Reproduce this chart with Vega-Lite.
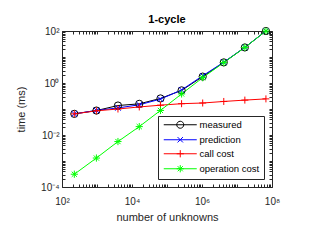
{
  "$schema": "https://vega.github.io/schema/vega-lite/v6.json",
  "width": 210,
  "height": 156,
  "autosize": {"type": "none"},
  "padding": {"left": 62, "top": 31, "right": 48, "bottom": 53},
  "background": "white",
  "title": {"text": "1-cycle", "font": "Liberation Sans", "fontSize": 11, "fontWeight": "bold", "color": "#000000", "offset": 0},
  "config": {
    "view": {"stroke": "#262626", "strokeWidth": 1},
    "axis": {"grid": false, "domain": false, "tickColor": "#262626", "tickSize": -3, "tickWidth": 1,
      "labelFont": "Liberation Sans", "labelFontSize": 10, "labelColor": "#262626",
      "titleFont": "Liberation Sans", "titleFontSize": 11, "titleFontWeight": "normal", "titleColor": "#262626",
      "labelFlush": false, "labelOverlap": false}
  },
  "data": {"values": [
    {"n": 225, "series": "measured", "time": 0.065},
    {"n": 961, "series": "measured", "time": 0.087},
    {"n": 3969, "series": "measured", "time": 0.136},
    {"n": 16129, "series": "measured", "time": 0.158},
    {"n": 65025, "series": "measured", "time": 0.255},
    {"n": 261121, "series": "measured", "time": 0.52},
    {"n": 1046529, "series": "measured", "time": 1.76},
    {"n": 4190209, "series": "measured", "time": 6.2},
    {"n": 16769025, "series": "measured", "time": 23.3},
    {"n": 67092481, "series": "measured", "time": 100},
    {"n": 225, "series": "prediction", "time": 0.065},
    {"n": 961, "series": "prediction", "time": 0.088},
    {"n": 3969, "series": "prediction", "time": 0.11},
    {"n": 16129, "series": "prediction", "time": 0.145},
    {"n": 65025, "series": "prediction", "time": 0.24},
    {"n": 261121, "series": "prediction", "time": 0.54},
    {"n": 1046529, "series": "prediction", "time": 1.9},
    {"n": 4190209, "series": "prediction", "time": 6.3},
    {"n": 16769025, "series": "prediction", "time": 23.5},
    {"n": 67092481, "series": "prediction", "time": 100},
    {"n": 225, "series": "call cost", "time": 0.065},
    {"n": 961, "series": "call cost", "time": 0.085},
    {"n": 3969, "series": "call cost", "time": 0.1},
    {"n": 16129, "series": "call cost", "time": 0.12},
    {"n": 65025, "series": "call cost", "time": 0.14},
    {"n": 261121, "series": "call cost", "time": 0.16},
    {"n": 1046529, "series": "call cost", "time": 0.17},
    {"n": 4190209, "series": "call cost", "time": 0.195},
    {"n": 16769025, "series": "call cost", "time": 0.22},
    {"n": 67092481, "series": "call cost", "time": 0.245},
    {"n": 225, "series": "operation cost", "time": 0.00031},
    {"n": 961, "series": "operation cost", "time": 0.0013},
    {"n": 3969, "series": "operation cost", "time": 0.0056},
    {"n": 16129, "series": "operation cost", "time": 0.021},
    {"n": 65025, "series": "operation cost", "time": 0.088},
    {"n": 261121, "series": "operation cost", "time": 0.38},
    {"n": 1046529, "series": "operation cost", "time": 1.6},
    {"n": 4190209, "series": "operation cost", "time": 6.1},
    {"n": 16769025, "series": "operation cost", "time": 23.3},
    {"n": 67092481, "series": "operation cost", "time": 100}
  ]},
  "encoding": {
    "x": {"field": "n", "type": "quantitative", "scale": {"type": "log", "domain": [100, 100000000], "nice": false}, "axis": null},
    "y": {"field": "time", "type": "quantitative", "scale": {"type": "log", "domain": [0.0001, 100], "nice": false}, "axis": null},
    "color": {"field": "series", "type": "nominal",
      "scale": {"domain": ["measured", "prediction", "call cost", "operation cost"], "range": ["#000000", "#0000ff", "#ff0000", "#00ff00"]},
      "legend": {"orient": "bottom-right", "offset": 8, "title": null, "fillColor": "white", "strokeColor": "#262626",
        "padding": 4, "symbolSize": 36, "labelOffset": 28, "labelFont": "Liberation Sans", "labelFontSize": 9.5, "labelColor": "#000000",
        "rowPadding": 3, "symbolStrokeWidth": 1,
        "encode": {"symbols": {"update": {
          "shape": {"signal": "datum.value == 'measured' ? 'M-1,0L10,0M5.67,0A1.17,1.17 0 1,1 3.33,0A1.17,1.17 0 1,1 5.67,0' : datum.value == 'prediction' ? 'M-1,0L10,0M3.6,-0.9L5.4,0.9M3.6,0.9L5.4,-0.9' : datum.value == 'call cost' ? 'M-1,0L10,0M4.5,-1.2L4.5,1.2M3.3,0L5.7,0' : 'M-1,0L10,0M3.3,0L5.7,0M4.5,-1.2L4.5,1.2M3.65,-0.85L5.35,0.85M3.65,0.85L5.35,-0.85'"},
          "stroke": {"scale": "color", "field": "value"},
          "fill": {"value": "transparent"},
          "strokeWidth": {"value": 1},
          "opacity": {"value": 1}
        }}}
      }
    }
  },
  "layer": [
    {
      "mark": {"type": "line", "strokeWidth": 1},
      "encoding": {
        "x": {"field": "n", "type": "quantitative", "scale": {"type": "log", "domain": [100, 100000000], "nice": false},
          "axis": {"orient": "bottom", "title": "number of unknowns", "labelPadding": 12, "titlePadding": 5,
            "values": [100,200,300,400,500,600,700,800,900,1000,2000,3000,4000,5000,6000,7000,8000,9000,10000,20000,30000,40000,50000,60000,70000,80000,90000,100000,200000,300000,400000,500000,600000,700000,800000,900000,1000000,2000000,3000000,4000000,5000000,6000000,7000000,8000000,9000000,10000000,20000000,30000000,40000000,50000000,60000000,70000000,80000000,90000000,100000000],
            "labelExpr": "abs(log(datum.value)/LN10 - round(log(datum.value)/LN10)) > 0.001 ? '' : (round(log(datum.value)/LN10) == 2 ? '10²' : round(log(datum.value)/LN10) == 4 ? '10⁴' : round(log(datum.value)/LN10) == 6 ? '10⁶' : round(log(datum.value)/LN10) == 8 ? '10⁸' : '')"}},
        "y": {"field": "time", "type": "quantitative", "scale": {"type": "log", "domain": [0.0001, 100], "nice": false},
          "axis": {"orient": "left", "title": "time (ms)", "labelPadding": 6, "titlePadding": 14,
            "values": [0.0001,0.0002,0.0003,0.0004,0.0005,0.0006,0.0007,0.0008,0.0009,0.001,0.002,0.003,0.004,0.005,0.006,0.007,0.008,0.009,0.01,0.02,0.03,0.04,0.05,0.06,0.07,0.08,0.09,0.1,0.2,0.3,0.4,0.5,0.6,0.7,0.8,0.9,1,2,3,4,5,6,7,8,9,10,20,30,40,50,60,70,80,90,100],
            "labelExpr": "abs(log(datum.value)/LN10 - round(log(datum.value)/LN10)) > 0.001 ? '' : (round(log(datum.value)/LN10) == -4 ? '10⁻⁴' : round(log(datum.value)/LN10) == -2 ? '10⁻²' : round(log(datum.value)/LN10) == 0 ? '10⁰' : round(log(datum.value)/LN10) == 2 ? '10²' : '')"}}
      }
    },
    {
      "transform": [{"filter": "datum.series == 'measured'"}],
      "mark": {"type": "point", "shape": "circle", "filled": false, "strokeWidth": 1, "opacity": 1, "size": 52},
      "encoding": {
        "x": {"field": "n", "type": "quantitative", "scale": {"type": "log", "domain": [100, 100000000], "nice": false},
          "axis": {"orient": "top", "title": null, "labels": false,
            "values": [100,200,300,400,500,600,700,800,900,1000,2000,3000,4000,5000,6000,7000,8000,9000,10000,20000,30000,40000,50000,60000,70000,80000,90000,100000,200000,300000,400000,500000,600000,700000,800000,900000,1000000,2000000,3000000,4000000,5000000,6000000,7000000,8000000,9000000,10000000,20000000,30000000,40000000,50000000,60000000,70000000,80000000,90000000,100000000]}},
        "y": {"field": "time", "type": "quantitative", "scale": {"type": "log", "domain": [0.0001, 100], "nice": false},
          "axis": {"orient": "right", "title": null, "labels": false,
            "values": [0.0001,0.0002,0.0003,0.0004,0.0005,0.0006,0.0007,0.0008,0.0009,0.001,0.002,0.003,0.004,0.005,0.006,0.007,0.008,0.009,0.01,0.02,0.03,0.04,0.05,0.06,0.07,0.08,0.09,0.1,0.2,0.3,0.4,0.5,0.6,0.7,0.8,0.9,1,2,3,4,5,6,7,8,9,10,20,30,40,50,60,70,80,90,100]}}
      }
    },
    {
      "transform": [{"filter": "datum.series == 'prediction'"}],
      "mark": {"type": "point", "shape": "M-0.85,-0.85L0.85,0.85M-0.85,0.85L0.85,-0.85", "filled": false, "strokeWidth": 1, "opacity": 1, "size": 42}
    },
    {
      "transform": [{"filter": "datum.series == 'call cost'"}],
      "mark": {"type": "point", "shape": "M-1,0L1,0M0,-1L0,1", "filled": false, "strokeWidth": 1, "opacity": 1, "size": 49}
    },
    {
      "transform": [{"filter": "datum.series == 'operation cost'"}],
      "mark": {"type": "point", "shape": "M-1,0L1,0M0,-1L0,1M-0.72,-0.72L0.72,0.72M-0.72,0.72L0.72,-0.72", "filled": false, "strokeWidth": 1, "opacity": 1, "size": 52}
    }
  ],
  "resolve": {"axis": {"x": "independent", "y": "independent"}}
}
